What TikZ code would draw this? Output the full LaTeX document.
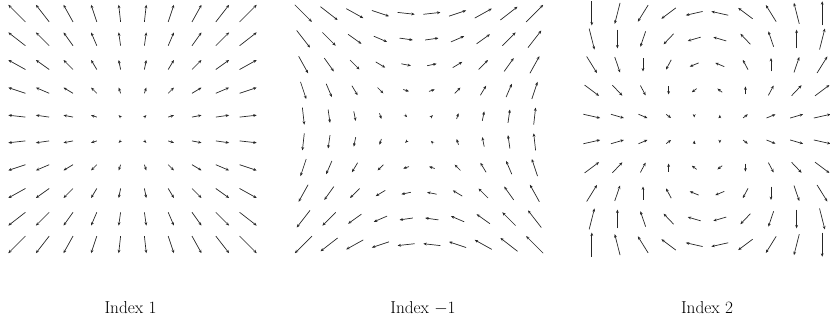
\documentclass[tikz,border=0pt]{standalone}
\usetikzlibrary{arrows.meta}

\tikzset{
vec/.style={-{Stealth[length=3.4pt,width=2.8pt]}, line width=0.7pt, black!85},
lbl/.style={font=\LARGE, anchor=base}
}

\begin{document}
\begin{tikzpicture}[x=1pt,y=1pt]
\useasboundingbox (0,0) rectangle (830,322);

% Index 1
\begin{scope}[shift={(132.5,193)}]

\foreach \a in {0,...,9}
\foreach \b in {0,...,9}
{
\pgfmathsetmacro\i{\a-4.5}
\pgfmathsetmacro\j{\b-4.5}
\pgfmathsetmacro\dx{1.9*\i}
\pgfmathsetmacro\dy{1.9*\j}
\draw[vec] ({25.7*\i-\dx},{25.7*\j-\dy}) -- ({25.7*\i+\dx},{25.7*\j+\dy});
}

\node[lbl] (idx1) at (-2,-184)
{Index 1};

\end{scope}

% Index -1
\begin{scope}[shift={(419,193)}]

\foreach \a in {0,...,9}
\foreach \b in {0,...,9}
{
\pgfmathsetmacro\i{\a-4.5}
\pgfmathsetmacro\j{\b-4.5}
\pgfmathsetmacro\dx{1.9*\j}
\pgfmathsetmacro\dy{1.9*\i}
\draw[vec] ({25.7*\i-\dx},{25.7*\j-\dy}) -- ({25.7*\i+\dx},{25.7*\j+\dy});
}

\node[lbl] (idx2) at (4,-184)
{Index $-1$};

\end{scope}

% Index 2
\begin{scope}[shift={(707,193)}]

\foreach \a in {0,...,9}
\foreach \b in {0,...,9}
{
\pgfmathsetmacro\i{\a-4.5}
\pgfmathsetmacro\j{\b-4.5}
\pgfmathsetmacro\r{sqrt(\i*\i+\j*\j)}
\pgfmathsetmacro\dx{1.9*(\i*\i-\j*\j)/\r}
\pgfmathsetmacro\dy{1.9*2*\i*\j/\r}
\draw[vec] ({25.6*\i-\dx},{25.7*\j-\dy}) -- ({25.6*\i+\dx},{25.7*\j+\dy});
}

\node[lbl] (idx3) at (0,-184)
{Index 2};

\end{scope}

\end{tikzpicture}
\end{document}
